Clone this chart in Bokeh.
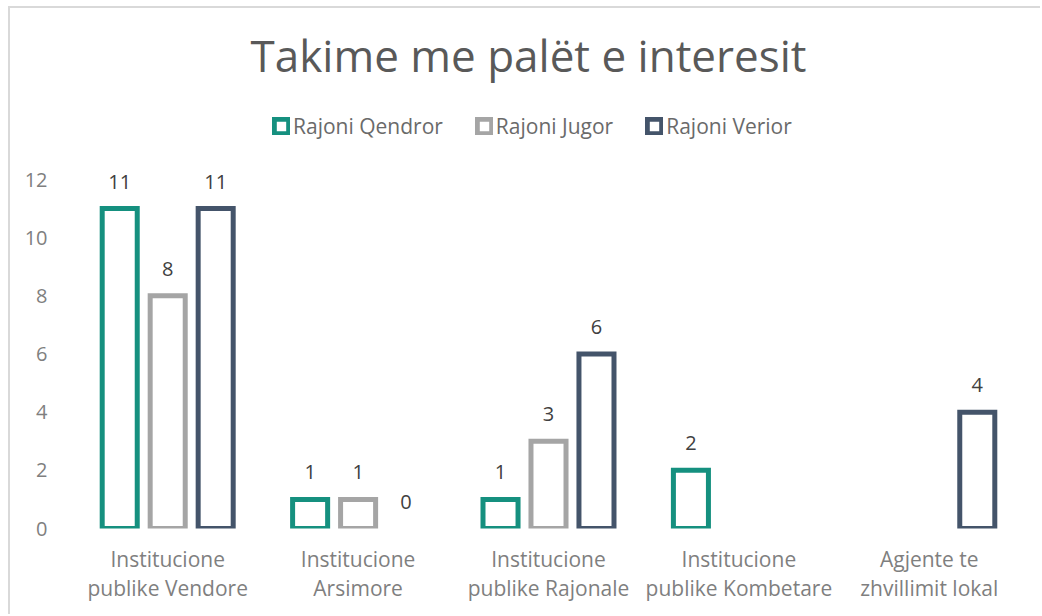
from bokeh.plotting import figure
from bokeh.models import (FactorRange, Range1d, FixedTicker, Legend, LegendItem,
                          ColumnDataSource, Label)
from bokeh.transform import dodge
from bokeh.core.properties import value
from bokeh.embed import file_html
from bokeh.resources import INLINE

# ---- data ----
categories = ["Institucione\npublike Vendore", "Institucione\nArsimore",
              "Institucione\npublike Rajonale", "Institucione\npublike Kombetare",
              "Agjente te\nzhvillimit lokal"]
series_names = ["Rajoni Qendror", "Rajoni Jugor", "Rajoni Verior"]
qendror = [11, 1, 1, 2, None]
jugor = [8, 1, 3, None, None]
verior = [11, 0, 6, None, 4]
y_ticks = [0, 2, 4, 6, 8, 10, 12]
title_text = "Takime me palët e interesit"

colors = ["#15907f", "#a5a5a5", "#44546a"]
offsets = [-0.252, 0.0, 0.252]
FONT = "Open Sans"

p = figure(width=1032, height=608, x_range=FactorRange(*categories),
           y_range=Range1d(0, 17.88), output_backend="svg", toolbar_location=None,
           min_border_left=62, min_border_right=18, min_border_bottom=88,
           min_border_top=0, outline_line_color=None)
p.styles = {"margin-left": "8px", "margin-top": "6px",
            "border-left": "2px solid #d9d9d9", "border-top": "2px solid #d9d9d9"}

p.xgrid.grid_line_color = None
p.ygrid.grid_line_color = None

p.yaxis.ticker = FixedTicker(ticks=y_ticks)
p.yaxis.axis_line_color = None
p.yaxis.major_tick_line_color = None
p.yaxis.minor_tick_line_color = None
p.yaxis.major_label_standoff = 19
p.yaxis.major_label_text_font = FONT
p.yaxis.major_label_text_font_size = "20px"
p.yaxis.major_label_text_color = "#7f7f7f"

p.xaxis.axis_line_color = None
p.xaxis.major_tick_line_color = None
p.xaxis.major_label_standoff = 10
p.xaxis.major_label_text_font = FONT
p.xaxis.major_label_text_font_size = "21px"
p.xaxis.major_label_text_color = "#7f7f7f"
p.xaxis.major_label_text_line_height = 1.05

items = []
for name, vals, col, off in zip(series_names, [qendror, jugor, verior], colors, offsets):
    cats = [c for c, v in zip(categories, vals) if v is not None]
    vv = [v for v in vals if v is not None]
    lab_src = ColumnDataSource(dict(x=cats, y=vv, t=[str(v) for v in vv]))
    bar_src = ColumnDataSource(dict(x=[c for c, v in zip(cats, vv) if v > 0],
                                    y=[v for v in vv if v > 0]))
    r = p.vbar(x=dodge("x", off, range=p.x_range), top="y", bottom=0, width=0.184,
               source=bar_src, fill_color="white", line_color=col, line_width=5,
               line_join="miter")
    p.text(x=dodge("x", off, range=p.x_range), y="y", text="t", source=lab_src,
           text_font=value(FONT), text_font_size="20px", text_color="#404040",
           text_align="center", text_baseline="alphabetic", y_offset=-27)
    items.append(LegendItem(label=name, renderers=[r]))

legend = Legend(items=items, orientation="horizontal", location=(200, 388),
                glyph_width=18, glyph_height=18, label_standoff=3, spacing=32,
                padding=0, margin=0, border_line_color=None,
                background_fill_alpha=0, label_text_font=FONT,
                label_text_font_size="21px", label_text_color="#6a6a6a",
                label_height=20)
p.add_layout(legend)

p.add_layout(Label(x=2.395, y=16.28, text=title_text, text_align="center",
                   text_baseline="middle", text_font=FONT, text_font_size="44px",
                   text_color="#595959"))

open("out.html", "w").write(file_html(p, INLINE))
